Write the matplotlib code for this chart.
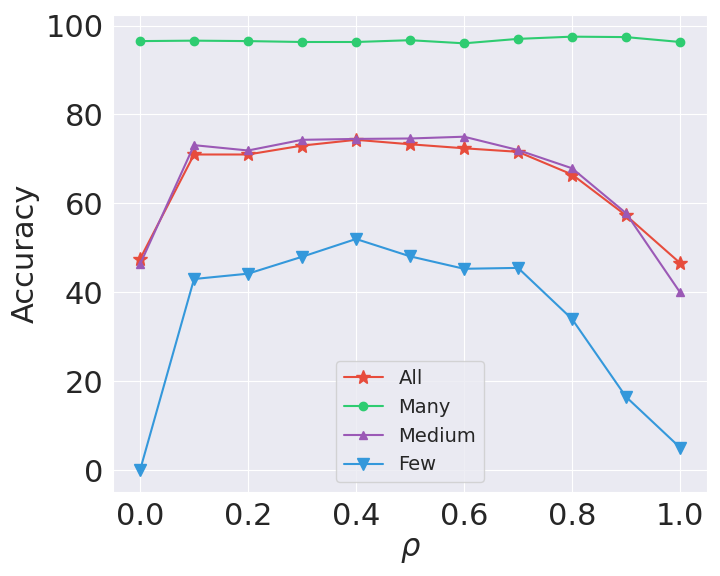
import numpy as np
import matplotlib
matplotlib.use('Agg')
import matplotlib.pyplot as plt
import seaborn as sns

rho = [0.0, 0.1, 0.2, 0.3, 0.4, 0.5, 0.6, 0.7, 0.8, 0.9, 1.0]
acc_all = [47.5, 71.0, 71.0, 73.0, 74.3, 73.3, 72.4, 71.6, 66.5, 57.3, 46.6]
acc_many = [96.5, 96.6, 96.5, 96.3, 96.3, 96.7, 96.0, 97.0, 97.5, 97.4, 96.3]
acc_medium = [46.3, 73.1, 71.9, 74.3, 74.5, 74.6, 75.0, 72.0, 67.9, 57.8, 40.0]
acc_few = [0.0, 43.0, 44.2, 48.0, 52.0, 48.1, 45.3, 45.5, 34.0, 16.5, 5.1]

sns.set_style('darkgrid')
plt.rcParams['font.family'] = ['DejaVu Sans']

fig, ax = plt.subplots(figsize=(7.2, 5.76), dpi=100)
ax.plot(rho, acc_all, marker='*', markersize=10, color='#e74c3c', label='All')
ax.plot(rho, acc_many, marker='o', markersize=6, color='#2ecc71', label='Many')
ax.plot(rho, acc_medium, marker='^', markersize=6, color='#9b59b6', label='Medium')
ax.plot(rho, acc_few, marker='v', markersize=8, color='#3498db', label='Few')

ax.set_xlabel(r'$\rho$', fontsize=22)
ax.set_ylabel('Accuracy', fontsize=22)
ax.tick_params(labelsize=22)
ax.legend(loc='lower center', fontsize=14)
plt.subplots_adjust(left=0.157, right=0.982, top=0.974, bottom=0.146)
plt.savefig('out.png')
